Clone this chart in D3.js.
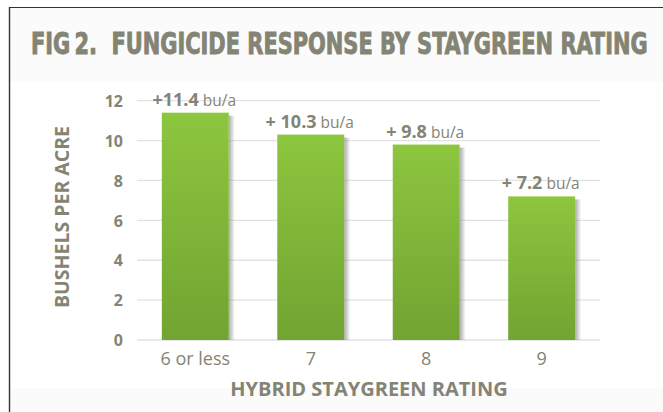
<!DOCTYPE html>
<html>
<head>
<meta charset="utf-8">
<script src="https://cdn.jsdelivr.net/npm/d3@7"></script>
<style>
  html, body { margin: 0; padding: 0; background: #ffffff; }
  svg { display: block; }
</style>
</head>
<body>
<div id="chart"></div>
<script>
(function () {
  // Data
  const categories = ["6 or less", "7", "8", "9"];
  const values = [11.4, 10.3, 9.8, 7.2];
  const valueLabels = ["+11.4", "+ 10.3", "+ 9.8", "+ 7.2"];
  const yTicks = [0, 2, 4, 6, 8, 10, 12];

  const WIDTH = 663;
  const HEIGHT = 412;
  const GRAY = "#848474";
  const SANS = "'Open Sans', 'Noto Sans', sans-serif";

  const svg = d3.select("#chart").append("svg")
    .attr("width", WIDTH)
    .attr("height", HEIGHT);

  const defs = svg.append("defs");

  const grad = defs.append("linearGradient")
    .attr("id", "barGrad")
    .attr("x1", 0).attr("y1", 0).attr("x2", 0).attr("y2", 1);
  grad.append("stop").attr("offset", "0%").attr("stop-color", "#8dc63f");
  grad.append("stop").attr("offset", "100%").attr("stop-color", "#71a431");

  const shadow = defs.append("linearGradient")
    .attr("id", "shadowGrad")
    .attr("x1", 0).attr("y1", 0).attr("x2", 1).attr("y2", 0);
  shadow.append("stop").attr("offset", "0%").attr("stop-color", "#888").attr("stop-opacity", 0.7);
  shadow.append("stop").attr("offset", "100%").attr("stop-color", "#888").attr("stop-opacity", 0);

  // Panel backgrounds and frame
  svg.append("rect")
    .attr("x", 10).attr("y", 7).attr("width", WIDTH - 10).attr("height", 75)
    .attr("fill", "#fbfbfb");
  svg.append("rect")
    .attr("x", 10).attr("y", 388).attr("width", WIDTH - 10).attr("height", HEIGHT - 388)
    .attr("fill", "#fbfbfb");
  svg.append("line")
    .attr("x1", 9).attr("x2", WIDTH).attr("y1", 7.5).attr("y2", 7.5)
    .attr("stroke", "#333").attr("stroke-width", 1.2);
  svg.append("line")
    .attr("x1", 9.5).attr("x2", 9.5).attr("y1", 7).attr("y2", HEIGHT)
    .attr("stroke", "#333").attr("stroke-width", 1.4);

  // Title: heavy face, squeezed to the reference width
  const titleG = svg.append("g");
  const title = titleG.append("text")
    .attr("x", 0).attr("y", 0)
    .style("font-family", "'DejaVu Sans Condensed', 'Liberation Sans Narrow', sans-serif")
    .style("font-weight", "700")
    .style("font-size", "30px")
    .style("fill", GRAY)
    .style("stroke", GRAY)
    .style("stroke-width", "0.9px")
    .style("white-space", "pre")
    .text("FIG\u20092.\u00a0\u00a0FUNGICIDE RESPONSE BY STAYGREEN RATING");
  const tw = title.node().getComputedTextLength();
  titleG.attr("transform", `translate(31,54) scale(${617 / tw},1)`);

  // Scales
  const x = d3.scaleBand()
    .domain(categories)
    .range([137, 600])
    .paddingInner(0.42)
    .paddingOuter(0.215);

  const y = d3.scaleLinear()
    .domain([0, 12])
    .range([340, 100.7]);

  // Gridlines
  svg.append("g")
    .selectAll("line")
    .data(yTicks)
    .join("line")
    .attr("x1", 137).attr("x2", 600)
    .attr("y1", d => y(d)).attr("y2", d => y(d))
    .attr("stroke", "#e2e2e2")
    .attr("stroke-width", 1.3);

  // Y axis labels
  const yAxis = svg.append("g")
    .attr("transform", "translate(123,0)")
    .call(d3.axisLeft(y).tickValues(yTicks).tickSize(0).tickPadding(0));
  yAxis.select(".domain").remove();
  yAxis.selectAll("text")
    .attr("dy", "0.36em")
    .style("font-family", SANS)
    .style("font-weight", "700")
    .style("font-size", "16px")
    .style("fill", GRAY);

  // Bars with right-side shadow
  const bars = svg.append("g")
    .selectAll("g.bar")
    .data(categories.map((c, i) => ({ c, v: values[i], label: valueLabels[i] })))
    .join("g")
    .attr("class", "bar");

  bars.append("rect")
    .attr("x", d => x(d.c) + x.bandwidth())
    .attr("y", d => y(d.v) + 3)
    .attr("width", 6)
    .attr("height", d => y(0) - y(d.v) - 3)
    .attr("fill", "url(#shadowGrad)");

  bars.append("rect")
    .attr("x", d => x(d.c))
    .attr("y", d => y(d.v))
    .attr("width", x.bandwidth())
    .attr("height", d => y(0) - y(d.v))
    .attr("fill", "url(#barGrad)");

  // Value labels
  const vText = bars.append("text")
    .attr("x", d => x(d.c) + x.bandwidth() / 2 - 1)
    .attr("y", d => y(d.v) - 7)
    .attr("text-anchor", "middle")
    .style("font-family", SANS)
    .style("fill", GRAY);
  vText.append("tspan")
    .style("font-weight", "700")
    .style("font-size", "18px")
    .text(d => d.label);
  vText.append("tspan")
    .style("font-weight", "400")
    .style("font-size", "15.5px")
    .text(" bu/a");

  // X axis labels
  const xAxis = svg.append("g")
    .attr("transform", "translate(0,365)")
    .call(d3.axisBottom(x).tickSize(0).tickPadding(0));
  xAxis.select(".domain").remove();
  xAxis.selectAll("text")
    .attr("y", 0)
    .attr("dy", 0)
    .style("font-family", SANS)
    .style("font-weight", "400")
    .style("font-size", "18px")
    .style("fill", GRAY);

  // Axis titles
  svg.append("text")
    .attr("x", 369).attr("y", 396)
    .attr("text-anchor", "middle")
    .style("font-family", SANS)
    .style("font-weight", "700")
    .style("font-size", "20px")
    .style("fill", GRAY)
    .text("HYBRID STAYGREEN RATING");

  svg.append("text")
    .attr("transform", "translate(69,217) rotate(-90)")
    .attr("text-anchor", "middle")
    .style("font-family", SANS)
    .style("font-weight", "700")
    .style("font-size", "19.5px")
    .style("fill", GRAY)
    .text("BUSHELS PER ACRE");
})();
</script>
</body>
</html>
